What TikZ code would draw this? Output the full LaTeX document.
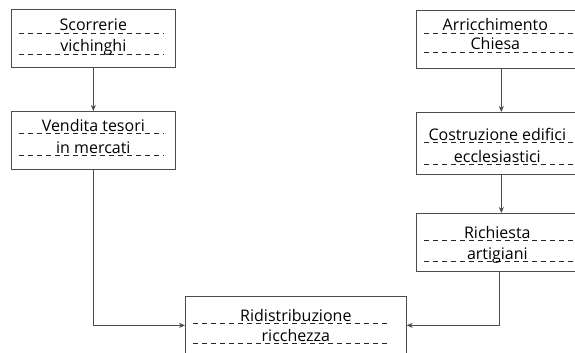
\documentclass[tikz,border=0pt]{standalone}
\usepackage{fontspec}
\setmainfont{Open Sans}
\usepackage{tikz}
\usetikzlibrary{arrows.meta,positioning}

\begin{document}
\begin{tikzpicture}[x=1pt,y=-1pt,>={Stealth[length=6pt,width=5pt]},
  line width=0.7pt,
  tbox/.style={draw=black!70,rectangle,anchor=north west,inner sep=0pt,minimum height=58pt},
  lbl/.style={anchor=base,text=black,font=\fontsize{16}{18}\selectfont},
  rule/.style={draw=black!85,dash pattern=on 5pt off 4pt},
  link/.style={draw=black!70,->}]
          \useasboundingbox (0,0) rectangle (575,353);
          \clip (0,0) rectangle (575,353);
          \node[tbox,minimum width=164pt] at (11,9) (scor) {};
          \node[tbox,minimum width=164pt] at (11,111) (vend) {};
          \node[tbox,minimum width=170pt] at (416,10) (arri) {};
          \node[tbox,minimum width=170pt,minimum height=62pt] at (416,112) (cost) {};
          \node[tbox,minimum width=170pt] at (416,213) (rich) {};
          \node[tbox,minimum width=221pt] at (185,296) (ridi) {};
          \draw[rule] ([xshift=8pt,yshift=-24pt]scor.north west) -- ([xshift=-12pt,yshift=-24pt]scor.north east);
          \draw[rule] ([xshift=8pt,yshift=-45pt]scor.north west) -- ([xshift=-12pt,yshift=-45pt]scor.north east);
          \draw[rule] ([xshift=8pt,yshift=-22pt]vend.north west) -- ([xshift=-12pt,yshift=-22pt]vend.north east);
          \draw[rule] ([xshift=8pt,yshift=-44pt]vend.north west) -- ([xshift=-12pt,yshift=-44pt]vend.north east);
          \draw[rule] ([xshift=8pt,yshift=-23pt]arri.north west) -- ([xshift=-12pt,yshift=-23pt]arri.north east);
          \draw[rule] ([xshift=8pt,yshift=-42pt]arri.north west) -- ([xshift=-12pt,yshift=-42pt]arri.north east);
          \draw[rule] ([xshift=8pt,yshift=-30pt]cost.north west) -- ([xshift=-12pt,yshift=-30pt]cost.north east);
          \draw[rule] ([xshift=8pt,yshift=-52pt]cost.north west) -- ([xshift=-12pt,yshift=-52pt]cost.north east);
          \draw[rule] ([xshift=8pt,yshift=-27pt]rich.north west) -- ([xshift=-12pt,yshift=-27pt]rich.north east);
          \draw[rule] ([xshift=8pt,yshift=-48pt]rich.north west) -- ([xshift=-12pt,yshift=-48pt]rich.north east);
          \draw[rule] ([xshift=8pt,yshift=-27pt]ridi.north west) -- ([xshift=-16pt,yshift=-27pt]ridi.north east);
          \draw[rule] ([xshift=8pt,yshift=-47pt]ridi.north west) -- ([xshift=-16pt,yshift=-47pt]ridi.north east);
          \node[lbl] at ([yshift=-22pt]scor.north) (scor1) {Scorrerie};
          \node[lbl] at ([yshift=-43pt]scor.north) (scor2) {vichinghi};
          \node[lbl] at ([yshift=-20pt]vend.north) (vend1) {Vendita tesori};
          \node[lbl] at ([yshift=-42pt]vend.north) (vend2) {in mercati};
          \node[lbl] at ([xshift=-6pt,yshift=-21pt]arri.north) (arri1) {Arricchimento};
          \node[lbl] at ([xshift=-6pt,yshift=-40pt]arri.north) (arri2) {Chiesa};
          \node[lbl] at ([xshift=-4pt,yshift=-28pt]cost.north) (cost1) {Costruzione edifici};
          \node[lbl] at ([xshift=-4pt,yshift=-50pt]cost.north) (cost2) {ecclesiastici};
          \node[lbl] at ([xshift=-4pt,yshift=-25pt]rich.north) (rich1) {Richiesta};
          \node[lbl] at ([xshift=-4pt,yshift=-46pt]rich.north) (rich2) {artigiani};
          \node[lbl] at ([yshift=-25pt]ridi.north) (ridi1) {Ridistribuzione};
          \node[lbl] at ([yshift=-45pt]ridi.north) (ridi2) {ricchezza};
          \draw[link] (scor) -- (vend);
          \draw[link] (arri) -- (cost);
          \draw[link] (cost) -- (rich);
          \draw[link] (vend.south) |- (ridi.west);
          \draw[link] ([xshift=-2pt]rich.south) |- (ridi.east);
        \end{tikzpicture}
\end{document}
